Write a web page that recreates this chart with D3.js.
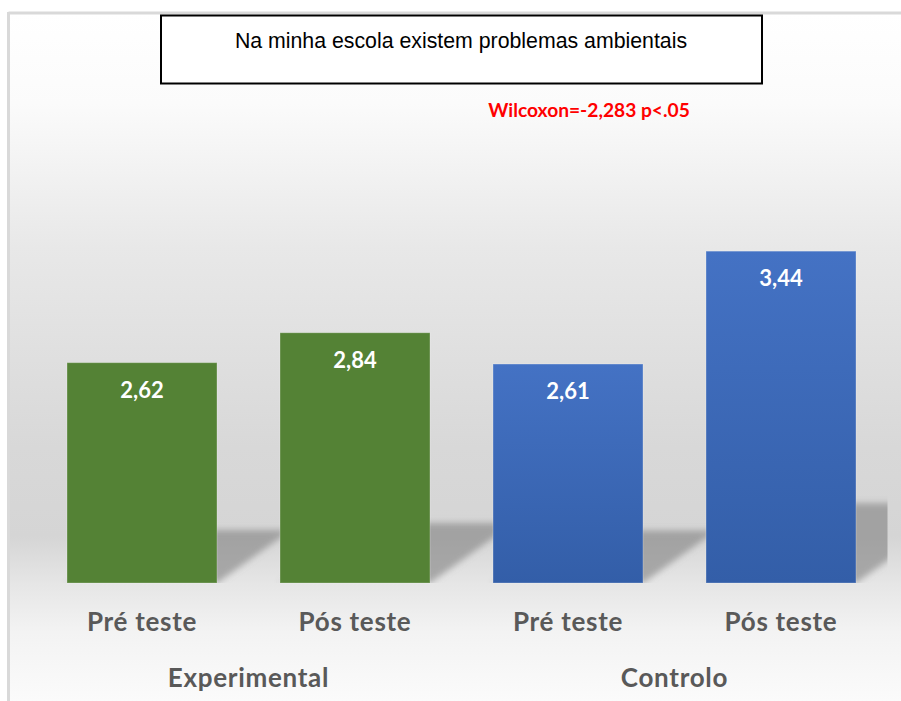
<!DOCTYPE html>
<html>
<head>
<meta charset="utf-8">
<script src="https://cdn.jsdelivr.net/npm/d3@7"></script>
<style>
  body { margin: 0; background: #ffffff; }
  svg { display: block; }
</style>
</head>
<body>
<div id="chart"></div>
<script>
// chart data
const phases = ["Pré teste", "Pós teste", "Pré teste", "Pós teste"];
const groupOfBar = ["Experimental", "Experimental", "Controlo", "Controlo"];
const groups = ["Experimental", "Controlo"];
const values = [2.62, 2.84, 2.61, 3.44];
const title = "Na minha escola existem problemas ambientais";
const note = "Wilcoxon=-2,283 p<.05";

const W = 901, H = 701;
const ptFormat = d3.formatLocale({ decimal: ",", thousands: ".", grouping: [3], currency: ["", ""] }).format(".2f");

const svg = d3.select("#chart").append("svg").attr("width", W).attr("height", H);
const defs = svg.append("defs");

// background gradient of the chart area
const bg = defs.append("linearGradient").attr("id", "bg")
  .attr("x1", 0).attr("y1", 0).attr("x2", 0).attr("y2", 1);
[[0, "#ffffff"], [0.13, "#fbfbfb"], [0.34, "#e8e8e8"], [0.63, "#d8d8d8"], [0.76, "#d5d5d5"],
 [0.83, "#e6e6e6"], [0.9, "#f3f3f3"], [1, "#fbfbfb"]]
  .forEach(([o, c]) => bg.append("stop").attr("offset", o).attr("stop-color", c));

const blue = defs.append("linearGradient").attr("id", "blueGrad")
  .attr("x1", 0).attr("y1", 0).attr("x2", 0).attr("y2", 1);
blue.append("stop").attr("offset", 0).attr("stop-color", "#4472c4");
blue.append("stop").attr("offset", 1).attr("stop-color", "#335ea8");

defs.append("filter").attr("id", "blur").attr("x", "-20%").attr("y", "-20%").attr("width", "140%").attr("height", "140%")
  .append("feGaussianBlur").attr("stdDeviation", 3);

svg.append("rect").attr("x", 10).attr("y", 14).attr("width", W - 10).attr("height", H - 14).attr("fill", "url(#bg)");
svg.append("line").attr("x1", 8.5).attr("x2", W).attr("y1", 13).attr("y2", 13).attr("stroke", "#d9d9d9").attr("stroke-width", 3);
svg.append("line").attr("x1", 8.5).attr("x2", 8.5).attr("y1", 12).attr("y2", H).attr("stroke", "#d9d9d9").attr("stroke-width", 3);

// scales
const x = d3.scaleBand().domain(d3.range(values.length)).range([35.5, 887.5])
  .paddingInner(0.296).paddingOuter(0.148);
const y = d3.scaleLinear().domain([1, 4]).range([583, 175]);

defs.append("clipPath").attr("id", "plotClip").append("rect")
  .attr("x", 35.5).attr("y", 100).attr("width", 852).attr("height", 483);

// perspective shadows behind the bars
svg.append("g").attr("clip-path", "url(#plotClip)")
  .selectAll("path").data(values).join("path")
  .attr("d", (d, i) => {
    const x0 = x(i), x1 = x(i) + x.bandwidth(), base = y(1);
    const sh = (base - y(d)) * 0.24, dx = sh * 1.4;
    return `M${x0},${base}L${x1},${base}L${x1 + dx},${base - sh}L${x0 + dx},${base - sh}Z`;
  })
  .attr("fill", "#808080").attr("fill-opacity", 0.6)
  .attr("filter", "url(#blur)");

// bars
svg.append("g").selectAll("rect").data(values).join("rect")
  .attr("x", (d, i) => x(i))
  .attr("y", d => y(d))
  .attr("width", x.bandwidth())
  .attr("height", d => y(1) - y(d))
  .attr("fill", (d, i) => groupOfBar[i] === "Experimental" ? "#548235" : "url(#blueGrad)")
  .attr("stroke", "#ffffff").attr("stroke-opacity", 0.25).attr("stroke-width", 1);

// value labels
svg.append("g").selectAll("text").data(values).join("text")
  .attr("x", (d, i) => x(i) + x.bandwidth() / 2)
  .attr("y", d => y(d) + 35)
  .attr("text-anchor", "middle")
  .attr("font-family", "Lato, sans-serif").attr("font-weight", "bold").attr("font-size", 22)
  .attr("fill", "#ffffff")
  .text(d => ptFormat(d));

// category labels
svg.append("g").selectAll("text").data(phases).join("text")
  .attr("x", (d, i) => x(i) + x.bandwidth() / 2)
  .attr("y", 631)
  .attr("text-anchor", "middle")
  .attr("font-family", "Lato, sans-serif").attr("font-weight", "bold").attr("font-size", 26)
  .attr("letter-spacing", 0.7)
  .attr("fill", "#595959")
  .text(d => d);

svg.append("g").selectAll("text").data(groups).join("text")
  .attr("x", g => {
    const idx = d3.range(phases.length).filter(i => groupOfBar[i] === g);
    return d3.mean(idx, i => x(i) + x.bandwidth() / 2);
  })
  .attr("y", 687)
  .attr("text-anchor", "middle")
  .attr("font-family", "Lato, sans-serif").attr("font-weight", "bold").attr("font-size", 26)
  .attr("letter-spacing", 0.7)
  .attr("fill", "#595959")
  .text(d => d);

// title box
svg.append("rect").attr("x", 161).attr("y", 15.5).attr("width", 601).attr("height", 68)
  .attr("fill", "#ffffff").attr("stroke", "#000000").attr("stroke-width", 2);
svg.append("text").attr("x", 461).attr("y", 48).attr("text-anchor", "middle")
  .attr("font-family", "'Liberation Sans', Arial, sans-serif").attr("font-size", 21.3)
  .attr("fill", "#000000").text(title);

// test annotation
svg.append("text").attr("x", 589).attr("y", 117).attr("text-anchor", "middle")
  .attr("font-family", "Lato, sans-serif").attr("font-weight", "bold").attr("font-size", 19.2)
  .attr("fill", "#ff0000").text(note);
</script>
</body>
</html>
